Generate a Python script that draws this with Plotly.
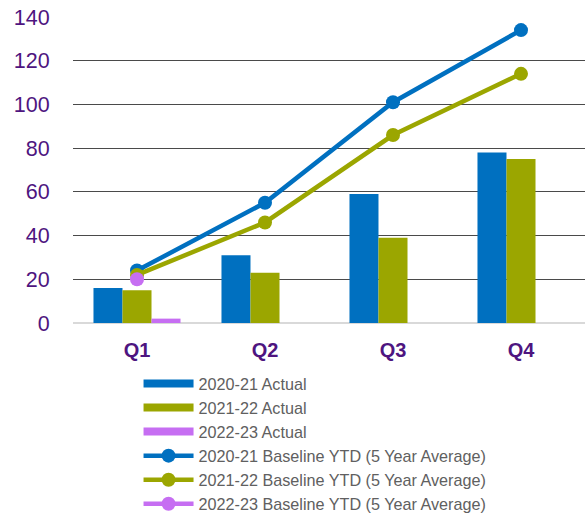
import plotly.graph_objects as go

quarters = ["Q1", "Q2", "Q3", "Q4"]
actual_2020_21 = [16, 31, 59, 78]
actual_2021_22 = [15, 23, 39, 75]
actual_2022_23 = [2, None, None, None]
baseline_2020_21 = [24, 55, 101, 134]
baseline_2021_22 = [22, 46, 86, 114]
baseline_2022_23 = [20, None, None, None]
y_ticks = [0, 20, 40, 60, 80, 100, 120, 140]

blue = "#0070C0"
green = "#9BA600"
purple = "#C66EF2"
tick_purple = "#4E1580"

fig = go.Figure()

bar_series = [
    ("2020-21 Actual", actual_2020_21, blue),
    ("2021-22 Actual", actual_2021_22, green),
    ("2022-23 Actual", actual_2022_23, purple),
]
line_series = [
    ("2020-21 Baseline YTD (5 Year Average)", baseline_2020_21, blue),
    ("2021-22 Baseline YTD (5 Year Average)", baseline_2021_22, green),
    ("2022-23 Baseline YTD (5 Year Average)", baseline_2022_23, purple),
]

for name, vals, col in bar_series:
    fig.add_trace(go.Bar(x=quarters, y=vals, name=name, marker_color=col,
                         marker_line_width=0, showlegend=False))

# legend proxies for bars (thick line swatch)
for name, vals, col in bar_series:
    fig.add_trace(go.Scatter(x=[None], y=[None], mode="lines", name=name,
                             line=dict(color=col, width=8)))

for name, vals, col in line_series:
    fig.add_trace(go.Scatter(x=quarters, y=vals, name=name, mode="lines+markers",
                             line=dict(color=col, width=4.5),
                             marker=dict(color=col, size=14)))

fig.update_layout(
    width=585, height=518,
    margin=dict(l=73, r=0, t=17, b=195, autoexpand=False),
    plot_bgcolor="white", paper_bgcolor="white",
    barmode="group", bargap=0.32, bargroupgap=0,
    font=dict(family="Liberation Sans, Arial, sans-serif"),
    legend=dict(x=0.128, y=-0.142, xanchor="left", yanchor="top",
                font=dict(size=16.2, color="#606060"),
                itemwidth=50, tracegroupgap=0),
)
fig.update_xaxes(
    automargin=False,
    showgrid=False, showline=False, ticks="outside", ticklen=9,
    tickcolor="rgba(0,0,0,0)",
    tickfont=dict(size=20, color=tick_purple, family="Liberation Sans, Arial, sans-serif"),
    tickprefix="<b>", ticksuffix="</b>",
)
fig.update_yaxes(
    automargin=False,
    range=[0, 140], tickvals=y_ticks, showgrid=True, gridcolor="#4a4a4a", gridwidth=1,
    zeroline=True, zerolinecolor="#D9D9D9", zerolinewidth=2,
    ticks="outside", ticklen=18, tickcolor="rgba(0,0,0,0)",
    tickfont=dict(size=21.5, color=tick_purple),
    showline=False,
)

fig.write_html("out.html", config={"displayModeBar": False},
               post_script="document.body.style.margin='0';document.body.style.padding='0';")
